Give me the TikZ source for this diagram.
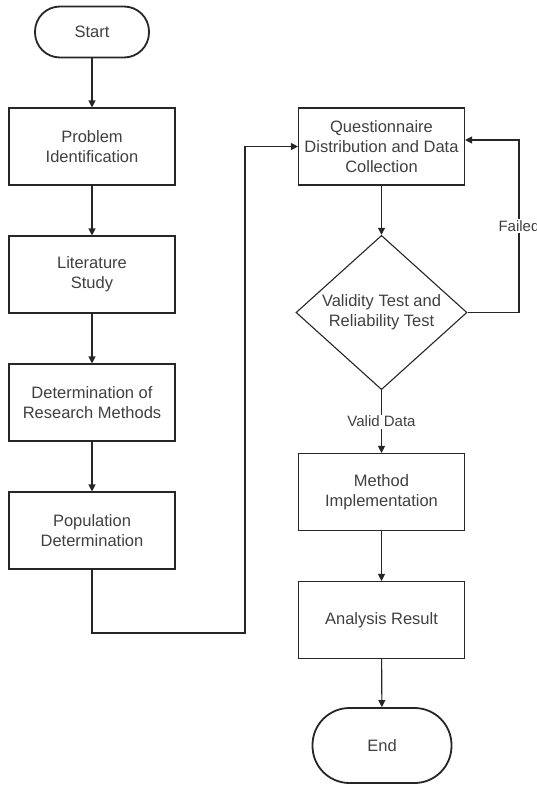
\documentclass[tikz,border=0pt]{standalone}
\usepackage{fontspec}
\setmainfont{Liberation Sans}
\usetikzlibrary{shapes.geometric,arrows.meta}
\begin{document}
\begin{tikzpicture}[x=1pt,y=-1pt,
  base/.style={draw=black!85, fill=white, text=black!75, align=center,
    font=\fontsize{16.5}{20}\selectfont, inner sep=0pt},
  procbox/.style={base, line width=1.1pt, minimum width=166pt, minimum height=77pt},
  termbox/.style={base, line width=1.8pt, rounded corners=#1},
  decbox/.style={base, diamond, line width=1.1pt, minimum width=171pt, minimum height=151pt},
  conn/.style={draw=black!85, line width=1.1pt, -{Triangle[width=7pt,length=7pt]}},
  lbl/.style={fill=white, text=black!75, font=\fontsize{15}{17}\selectfont, inner sep=1.5pt}
]
\useasboundingbox (0,0) rectangle (537,785);
\node[termbox=25pt, minimum width=114pt, minimum height=51pt] (start) at (92,32) {Start};
\node[procbox] (p1) at (92,146.5) {Problem\\Identification};
\node[procbox] (p2) at (92,274.5) {Literature\\Study};
\node[procbox] (p3) at (92,402.5) {Determination of\\Research Methods};
\node[procbox] (p4) at (92,530.5) {Population\\Determination};
\node[procbox] (q) at (381.5,146.5) {Questionnaire\\Distribution and Data\\Collection};
\node[decbox] (d) at (381.5,312.5) {Validity Test and\\Reliability Test};
\node[procbox] (m) at (381.5,492) {Method\\Implementation};
\node[procbox] (a) at (381.5,620) {Analysis Result};
\node[termbox=37pt, minimum width=139pt, minimum height=75pt] (e) at (382,745.5) {End};
\coordinate (c2) at (245,633);
\coordinate (f1) at (519,140);
\draw[conn] (start) -- (p1);
\draw[conn] (p1) -- (p2);
\draw[conn] (p2) -- (p3);
\draw[conn] (p3) -- (p4);
\draw[conn] (p4.south) |- (c2) |- (q.west);
\draw[conn] (q) -- (d);
\draw[conn] (d.east) -| (f1) -- (q.east |- f1);
\node[lbl] (fl) at (519,226) {Failed};
\draw[conn] (d) -- node[lbl] (vl) {Valid Data} (m);
\draw[conn] (m) -- (a);
\draw[conn] (a) -- (e);
\end{tikzpicture}
\end{document}
